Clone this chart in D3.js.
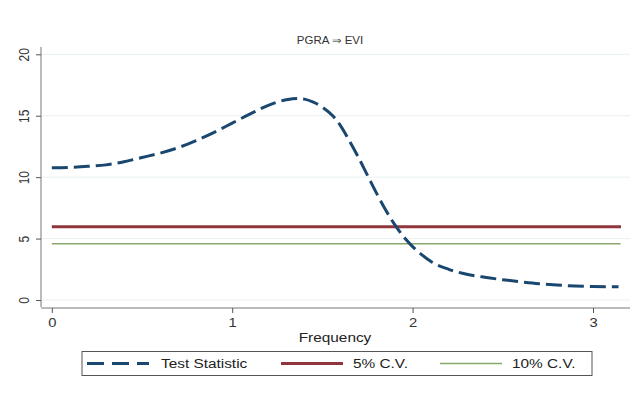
<!DOCTYPE html>
<html><head><meta charset="utf-8">
<script src="https://cdn.jsdelivr.net/npm/d3@7"></script>
<style>body{margin:0;background:#fff}svg{display:block}text{font-family:"Liberation Sans",Arial,sans-serif}</style>
</head><body>
<svg id="c" width="635" height="394"></svg>
<script>
const title = "PGRA ⇒ EVI";
const xLabel = "Frequency";
const xTicks = [0, 1, 2, 3];
const yTicks = [0, 5, 10, 15, 20];
const freq = [0, 0.1, 0.2, 0.3, 0.4, 0.5, 0.6, 0.7, 0.8, 0.9, 1.0, 1.1, 1.2, 1.3, 1.36, 1.4, 1.45, 1.5, 1.56, 1.6, 1.65, 1.7, 1.75, 1.8, 1.85, 1.9, 1.95, 2.0, 2.05, 2.1, 2.2, 2.3, 2.4, 2.5, 2.6, 2.7, 2.8, 2.9, 3.0, 3.14159];
const testStat = [10.77, 10.8, 10.88, 11.0, 11.25, 11.6, 11.95, 12.4, 12.98, 13.65, 14.4, 15.15, 15.85, 16.3, 16.41, 16.35, 16.1, 15.7, 14.95, 14.2, 12.95, 11.6, 10.15, 8.7, 7.35, 6.15, 5.15, 4.35, 3.7, 3.15, 2.5, 2.1, 1.85, 1.65, 1.48, 1.33, 1.22, 1.14, 1.1, 1.07];
const cv5 = 5.96;
const cv10 = 4.58;
const legendLabels = ["Test Statistic", "5% C.V.", "10% C.V."];
const colors = ["#1a476f", "#90353b", "#88a86a"];
const SX = 1.23; // horizontal stretch of the reference's text

const svg = d3.select("#c");
const x = d3.scaleLinear().domain([0, 3]).range([51.8, 593]);
const y = d3.scaleLinear().domain([0, 20]).range([300, 54.3]);
const xMax = d3.max(freq);

// gridlines
svg.append("g").selectAll("line").data(yTicks).join("line")
  .attr("x1", 42).attr("x2", 630).attr("y1", d => y(d)).attr("y2", d => y(d))
  .attr("stroke", "#e8f0f1").attr("stroke-width", 1);

// y axis
const ya = svg.append("g").attr("transform", "translate(41,0)")
  .call(d3.axisLeft(y).tickValues(yTicks).tickSize(5).tickPadding(9));
ya.select(".domain").attr("d", "M0,47V307").attr("stroke", "#777");
ya.selectAll(".tick line").attr("stroke", "#555");
ya.selectAll(".tick text").attr("transform", `translate(-17.5,0) scale(${SX},1) rotate(-90)`).attr("x", 0).attr("y", 0)
  .attr("dy", "0.35em").attr("text-anchor", "middle").attr("font-size", 12).attr("fill", "#333")
  .attr("font-family", "Liberation Sans, Arial, sans-serif");

// x axis
const xa = svg.append("g").attr("transform", "translate(0,308)")
  .call(d3.axisBottom(x).tickValues(xTicks).tickFormat(d3.format("d")).tickSize(5).tickPadding(5));
xa.select(".domain").attr("d", "M41,0H630").attr("stroke", "#777");
xa.selectAll(".tick line").attr("stroke", "#555");
xa.selectAll(".tick text").attr("font-size", 12).attr("fill", "#333").attr("transform", `scale(${SX},1)`)
  .attr("font-family", "Liberation Sans, Arial, sans-serif");

svg.append("text").attr("transform", `translate(335,342) scale(${SX},1)`).attr("text-anchor", "middle")
  .attr("font-size", 12.5).attr("fill", "#222").text(xLabel);

svg.append("text").attr("transform", `translate(330,44) scale(1.15,1)`).attr("text-anchor", "middle")
  .attr("font-size", 10).attr("fill", "#333").text(title);

// critical value lines
svg.append("line").attr("x1", x(0)).attr("x2", x(xMax) + 2).attr("y1", y(cv10)).attr("y2", y(cv10))
  .attr("stroke", colors[2]).attr("stroke-width", 1.6);
svg.append("line").attr("x1", x(0)).attr("x2", x(xMax) + 2.5).attr("y1", y(cv5)).attr("y2", y(cv5))
  .attr("stroke", colors[1]).attr("stroke-width", 3);

// test statistic
const pts = freq.map((f, i) => [f, testStat[i]]);
svg.append("path").datum(pts)
  .attr("d", d3.line().x(d => x(d[0])).y(d => y(d[1])).curve(d3.curveMonotoneX))
  .attr("fill", "none").attr("stroke", colors[0]).attr("stroke-width", 3)
  .attr("stroke-dasharray", "16,6");

// legend
const lg = svg.append("g");
lg.append("rect").attr("x", 82).attr("y", 351.5).attr("width", 510).attr("height", 24)
  .attr("fill", "#fff").attr("stroke", "#555").attr("stroke-width", 1);
const items = [
  {x1: 87, tx: 161, w: 3, dash: "17,8"},
  {x1: 281, tx: 353, w: 3, dash: null},
  {x1: 440, tx: 512, w: 1.6, dash: null}
];
items.forEach((it, i) => {
  lg.append("line").attr("x1", it.x1).attr("x2", it.x1 + 62).attr("y1", 363.5).attr("y2", 363.5)
    .attr("stroke", colors[i]).attr("stroke-width", it.w).attr("stroke-dasharray", it.dash);
  lg.append("text").attr("transform", `translate(${it.tx},368) scale(${SX},1)`).attr("font-size", 12.5).attr("fill", "#222")
    .text(legendLabels[i]);
});
</script>
</body></html>
